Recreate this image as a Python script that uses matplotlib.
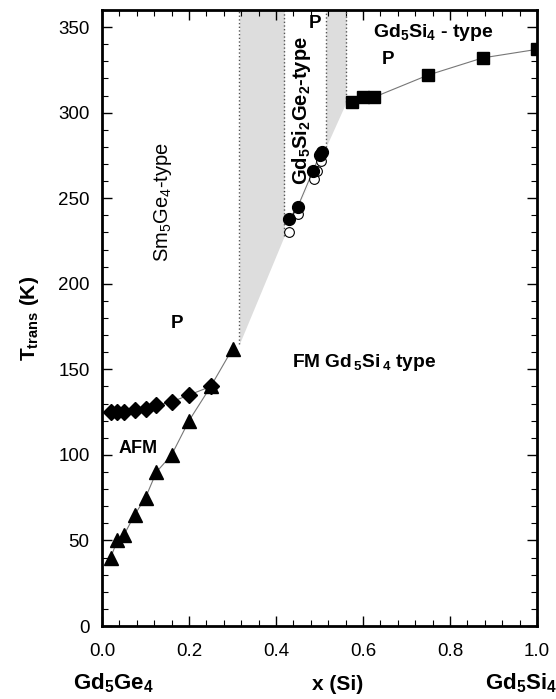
from matplotlib import pyplot as plt

# Fonts: Helvetica-like look, bold mathtext for the chemical formulas
plt.rcParams['font.family'] = ['Liberation Sans', 'DejaVu Sans']
plt.rcParams['mathtext.fontset'] = 'custom'
plt.rcParams['mathtext.rm'] = 'Liberation Sans'
plt.rcParams['mathtext.bf'] = 'Liberation Sans:bold'
plt.rcParams['mathtext.default'] = 'bf'

# Data read off the phase diagram of Gd5(SixGe1-x)4
# AFM -> P transition (diamonds)
afm_x = [0.02, 0.035, 0.05, 0.075, 0.1, 0.125, 0.16, 0.2, 0.25]
afm_T = [125, 125, 125, 126, 127, 129, 131, 135, 140]

# FM transition, low Si side (triangles)
fm_x = [0.02, 0.035, 0.05, 0.075, 0.1, 0.125, 0.16, 0.2, 0.25, 0.3]
fm_T = [40, 50, 53, 65, 75, 90, 100, 120, 140, 162]

# Gd5Si2Ge2-type region (filled and open circles)
mid_x = [0.43, 0.45, 0.485, 0.50, 0.505]
mid_T = [238, 245, 266, 275, 277]
mid_open_x = [0.43, 0.45, 0.487, 0.495, 0.503]
mid_open_T = [230, 241, 261, 266, 272]

# High Si side (squares)
hi_x = [0.575, 0.6, 0.625, 0.75, 0.875, 1.0]
hi_T = [306, 309, 309, 322, 332, 337]

# Phase boundaries (dotted verticals and lower edge of the grey two-phase regions)
bound_x = [0.316, 0.419, 0.515, 0.561]
bound_T = [165, 228, 280, 306]

T_top = 360

fig = plt.figure(figsize=(5.56, 6.99), dpi=100)
ax = fig.add_axes([0.1835, 0.1044, 0.7823, 0.8813])

# Grey two-phase regions, white single-phase Gd5Si2Ge2 strip in between
ax.fill_between(bound_x, bound_T, T_top, color='#dddddd', lw=0)
ax.fill_between(bound_x[1:3], bound_T[1:3], T_top, color='white', lw=0)
for bx, bT in zip(bound_x, bound_T):
    ax.plot([bx, bx], [bT, T_top], ls=':', color='#555555', lw=1)

# Lines through the data
ax.plot(afm_x, afm_T, color='#777777', lw=0.8)
ax.plot(fm_x, fm_T, color='#777777', lw=0.8)
ax.plot(mid_x, mid_T, color='#777777', lw=0.8)
ax.plot(hi_x, hi_T, color='#777777', lw=0.8)

# Markers
ax.plot(afm_x, afm_T, 'D', color='black', ms=8)
ax.plot(fm_x, fm_T, '^', color='black', ms=9.5)
ax.plot(mid_open_x, mid_open_T, 'o', mfc='white', mec='black', mew=0.8, ms=7)
ax.plot(mid_x, mid_T, 'o', color='black', ms=8.5)
ax.plot(hi_x, hi_T, 's', color='black', ms=8.5)

# Region labels
ax.text(0.14, 248, r'Sm$_\mathrm{5}$Ge$_\mathrm{4}$-type', rotation=90, ha='center', va='center', fontsize=14.5)
ax.text(0.172, 177, 'P', ha='center', va='center', fontsize=13.5, fontweight='bold')
ax.text(0.459, 301, r'Gd$_5$Si$_2$Ge$_2$-type', rotation=90, ha='center', va='center', fontsize=14.5, fontweight='bold')
ax.text(0.49, 352, 'P', ha='center', va='center', fontsize=13.5, fontweight='bold')
ax.text(0.761, 347, r'Gd$_5$Si$_4$ - type', ha='center', va='center', fontsize=14, fontweight='bold')
ax.text(0.658, 331, 'P', ha='center', va='center', fontsize=13.5, fontweight='bold')
ax.text(0.436, 154, r'FM Gd$_{\,5}$Si$_{\,4}$ type', ha='left', va='center', fontsize=13.8, fontweight='bold')
ax.text(0.083, 104, 'AFM', ha='center', va='center', fontsize=13, fontweight='bold')

# Axes ranges and ticks
ax.set_xlim(0, 1.0)
ax.set_ylim(0, T_top)
ax.set_xticks([0.0, 0.2, 0.4, 0.6, 0.8, 1.0])
ax.set_xticklabels(['0.0', '0.2', '0.4', '0.6', '0.8', '1.0'])
ax.set_yticks(range(0, 351, 50))
ax.set_xticks([i * 0.04 for i in range(26)], minor=True)
ax.set_yticks(range(0, 361, 10), minor=True)
ax.tick_params(which='both', direction='in', top=True, right=True, labelsize=13.5, colors='black')
ax.tick_params(axis='x', pad=12)
ax.tick_params(axis='y', pad=9)
ax.tick_params(which='major', length=7, width=1)
ax.tick_params(which='minor', length=4, width=0.8)
for s in ax.spines.values():
    s.set_linewidth(2)

# Axis labels
ax.set_ylabel(r'T$_{trans}$ (K)', fontsize=15, fontweight='bold', labelpad=12)
fig.text(338 / 556, 1 - 685 / 699, 'x (Si)', ha='center', va='center', fontsize=15, fontweight='bold')
fig.text(113 / 556, 1 - 683 / 699, r'Gd$_5$Ge$_4$', ha='center', va='center', fontsize=16, fontweight='bold')
fig.text(485 / 556, 1 - 683 / 699, r'Gd$_5$Si$_4$', ha='left', va='center', fontsize=16, fontweight='bold')

plt.savefig('out.png', dpi=100)
